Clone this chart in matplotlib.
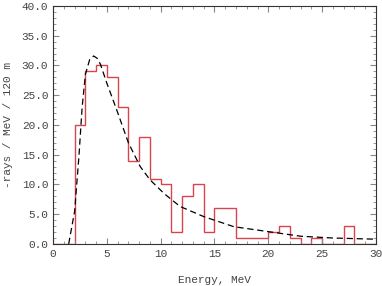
import numpy as np
import matplotlib.pyplot as plt
from matplotlib.ticker import MultipleLocator, FormatStrFormatter

# histogram, 1 MeV bins from 0 to 30
edges = np.arange(0, 31, 1)
counts = [0, 0, 20, 29, 30, 28, 23, 14, 18, 11, 10, 2, 8, 10, 2, 6, 6, 1, 1, 1,
          2, 3, 1, 0, 1, 0, 0, 3, 0, 0]

# dashed fit curve
fit_x = [1.45, 1.7, 2.0, 2.4, 2.7, 3.0, 3.4, 3.77, 4.1, 4.4, 5.0, 5.9, 7.0, 8.1,
         9.0, 10.3, 11.8, 14.0, 16.8, 19.9, 23.0, 26.0, 30.0]
fit_y = [0.0, 2.5, 5.5, 14.7, 23.0, 28.5, 31.0, 31.6, 31.2, 30.2, 27.0, 22.6, 17.0,
         13.0, 10.8, 8.5, 6.3, 4.6, 2.9, 2.1, 1.3, 1.0, 0.8]

plt.rcParams['font.family'] = ['Liberation Mono', 'DejaVu Sans Mono']

fig = plt.figure(figsize=(3.82, 2.86), dpi=100)
ax = fig.add_axes([0.139, 0.147, 0.845, 0.832])

ax.stairs(counts, edges, color='#d9434f', linewidth=1.0)
ax.plot(fit_x, fit_y, color='black', linestyle=(0, (5, 3)), linewidth=0.9)

ax.set_xlim(0, 30)
ax.set_ylim(0, 40)
ax.xaxis.set_major_locator(MultipleLocator(5))
ax.xaxis.set_minor_locator(MultipleLocator(1))
ax.yaxis.set_major_locator(MultipleLocator(5))
ax.yaxis.set_minor_locator(MultipleLocator(1))
ax.yaxis.set_major_formatter(FormatStrFormatter('%.1f'))
ax.tick_params(which='both', direction='in', top=True, right=True,
               color='#888888', labelsize=8, labelcolor='#444444')
ax.tick_params(which='major', length=4)
ax.tick_params(which='minor', length=2)
for s in ax.spines.values():
    s.set_color('#333333')
    s.set_linewidth(0.8)

ax.set_xlabel('Energy, MeV', fontsize=8, color='#444444', labelpad=12)
ax.set_ylabel('-rays / MeV / 120 m', fontsize=8, color='#444444', labelpad=6)

fig.savefig('out.png', dpi=100)
